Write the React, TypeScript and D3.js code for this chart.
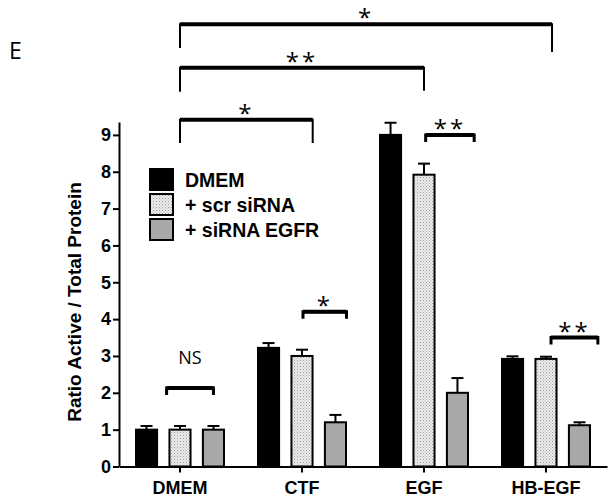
import * as d3 from "d3";
import { useEffect, useRef } from "react";

// ---- data ----
const categories = ["DMEM", "CTF", "EGF", "HB-EGF"];
const seriesNames = ["DMEM", "+ scr siRNA", "+ siRNA EGFR"];
const dmemValues = [1.0, 3.22, 9.0, 2.92];
const scrValues = [1.0, 3.0, 7.92, 2.92];
const sirnaValues = [1.0, 1.2, 2.0, 1.12];
const dmemErr = [0.1, 0.13, 0.33, 0.07];
const scrErr = [0.1, 0.17, 0.3, 0.06];
const sirnaErr = [0.1, 0.2, 0.4, 0.08];
const yTicks = [0, 1, 2, 3, 4, 5, 6, 7, 8, 9];

// brackets: from (category, slot offset) to (category, slot offset), level, leg bottoms, label
const bracketFrom = [
  ["DMEM", 0], ["DMEM", 0], ["DMEM", 0], ["EGF", 0.05], ["CTF", 0.03], ["HB-EGF", 0.15], ["DMEM", -0.4],
] as [string, number][];
const bracketTo = [
  ["HB-EGF", 0.18], ["EGF", 0], ["CTF", 0.32], ["EGF", 1.5], ["CTF", 1.33], ["HB-EGF", 1.55], ["DMEM", 1.0],
] as [string, number][];
const bracketLevel = [12.0, 10.82, 9.41, 9.0, 4.2, 3.5, 2.13];
const bracketLeftLeg = [11.36, 10.17, 8.78, 8.81, 4.01, 3.31, 1.94];
const bracketRightLeg = [11.25, 10.2, 8.78, 8.81, 4.01, 3.31, 1.94];
const bracketLabels = ["*", "**", "*", "**", "*", "**", "NS"];

export default function App() {
  const ref = useRef<SVGSVGElement | null>(null);

  useEffect(() => {
    const width = 614;
    const height = 504;
    const svg = d3.select(ref.current).attr("viewBox", `0 0 ${width} ${height}`);
    svg.selectAll("*").remove();

    const font = "'Liberation Sans', Arial, sans-serif";
    const values = [dmemValues, scrValues, sirnaValues];
    const errs = [dmemErr, scrErr, sirnaErr];

    // ---- scales ----
    const x = d3.scaleBand().domain(categories).range([119, 607]).padding(0);
    const inner = d3.scaleBand().domain(seriesNames).range([-45, 45]).paddingInner(0.31);
    const y = d3.scaleLinear().domain([0, 9.35]).range([466.5, 122]);
    const center = (c: string) => (x(c) as number) + x.bandwidth() / 2;
    const slotX = (c: string, off: number) => center(c) + off * inner.step();

    // ---- pattern for dotted bars ----
    const defs = svg.append("defs");
    const pat = defs.append("pattern").attr("id", "dots").attr("width", 3).attr("height", 3)
      .attr("patternUnits", "userSpaceOnUse");
    pat.append("rect").attr("width", 3).attr("height", 3).attr("fill", "#ededed");
    pat.append("rect").attr("x", 0).attr("y", 0).attr("width", 1).attr("height", 1).attr("fill", "#9a9a9a");
    pat.append("rect").attr("x", 1.5).attr("y", 1.5).attr("width", 1).attr("height", 1).attr("fill", "#b0b0b0");

    const fills = ["#000", "url(#dots)", "#a8a8ab"];

    // ---- bars ----
    seriesNames.forEach((s, si) => {
      const g = svg.append("g");
      const data = categories.map((c, i) => ({ c, v: values[si][i], e: errs[si][i] }));
      const mid = (d: { c: string }) => center(d.c) + (inner(s) as number) + inner.bandwidth() / 2;
      // error bars (up only)
      g.selectAll("line.err").data(data).join("line")
        .attr("x1", mid).attr("x2", mid)
        .attr("y1", d => y(d.v)).attr("y2", d => y(d.v + d.e))
        .attr("stroke", "#000").attr("stroke-width", 2);
      g.selectAll("line.cap").data(data).join("line")
        .attr("x1", d => mid(d) - 6).attr("x2", d => mid(d) + 6)
        .attr("y1", d => y(d.v + d.e)).attr("y2", d => y(d.v + d.e))
        .attr("stroke", "#000").attr("stroke-width", 2);
      g.selectAll("rect").data(data).join("rect")
        .attr("x", d => center(d.c) + (inner(s) as number) + 1)
        .attr("width", inner.bandwidth() - 2)
        .attr("y", d => y(d.v))
        .attr("height", d => y(0) - y(d.v))
        .attr("fill", fills[si])
        .attr("stroke", "#000").attr("stroke-width", 2);
    });

    // ---- axes ----
    const yAxis = svg.append("g").attr("transform", "translate(119,0)")
      .call(d3.axisLeft(y).tickValues(yTicks).tickSize(6).tickSizeOuter(0).tickPadding(2).tickFormat(d3.format("d")));
    yAxis.selectAll("path, line").attr("stroke", "#000").attr("stroke-width", 2);
    yAxis.selectAll("text").attr("font-family", font).attr("font-weight", 700)
      .attr("font-size", 18).attr("fill", "#000");

    const xAxis = svg.append("g").attr("transform", `translate(0,${y(0)})`)
      .call(d3.axisBottom(x).tickSize(6).tickSizeOuter(0).tickPadding(9));
    xAxis.selectAll("path, line").attr("stroke", "#000").attr("stroke-width", 2);
    xAxis.selectAll("text").attr("font-family", font).attr("font-weight", 700)
      .attr("font-size", 18).attr("fill", "#000");

    // ---- y label ----
    svg.append("text")
      .attr("transform", "translate(81,302) rotate(-90)")
      .attr("text-anchor", "middle")
      .attr("font-family", font).attr("font-weight", 700).attr("font-size", 19)
      .text("Ratio Active / Total Protein");

    // ---- brackets ----
    const bg = svg.append("g");
    bracketLabels.forEach((lab, i) => {
      const x1 = slotX(bracketFrom[i][0], bracketFrom[i][1]);
      const x2 = slotX(bracketTo[i][0], bracketTo[i][1]);
      const ly = y(bracketLevel[i]);
      bg.append("path")
        .attr("d", `M${x1},${y(bracketLeftLeg[i])} L${x1},${ly} L${x2},${ly} L${x2},${y(bracketRightLeg[i])}`)
        .attr("fill", "none").attr("stroke", "#000")
        .attr("stroke-width", i < 3 ? 2 : 3)
        .attr("stroke-linejoin", "miter");
      bg.append("line").attr("x1", x1).attr("x2", x2).attr("y1", ly).attr("y2", ly)
        .attr("stroke", "#000").attr("stroke-width", 4);
      const isNS = lab === "NS";
      bg.append("text")
        .attr("x", (x1 + x2) / 2)
        .attr("y", isNS ? ly - 24 : ly + 2)
        .attr("text-anchor", "middle")
        .attr("font-family", "'Open Sans', 'Liberation Sans', sans-serif")
        .attr("font-size", isNS ? 18 : 24)
        .attr("letter-spacing", isNS ? 0 : 3)
        .attr("fill", "#000")
        .text(lab);
    });

    // ---- legend ----
    const lg = svg.append("g");
    seriesNames.forEach((s, i) => {
      lg.append("rect").attr("x", 150).attr("y", 169 + i * 25).attr("width", 23).attr("height", 21)
        .attr("fill", fills[i]).attr("stroke", "#000").attr("stroke-width", 2);
      lg.append("text").attr("x", 185).attr("y", 187 + i * 25)
        .attr("font-family", font).attr("font-weight", 700).attr("font-size", 19.5)
        .text(s);
    });

    // ---- panel letter ----
    svg.append("text").attr("x", 9).attr("y", 59)
      .attr("font-family", "'Open Sans', 'Liberation Sans', sans-serif")
      .attr("font-size", 23).text("E");
  }, []);

  return (
    <div style={{ position: "absolute", left: 0, top: 0 }}>
      <svg ref={ref} width={614} height={504} style={{ display: "block", background: "#fff" }} />
    </div>
  );
}
